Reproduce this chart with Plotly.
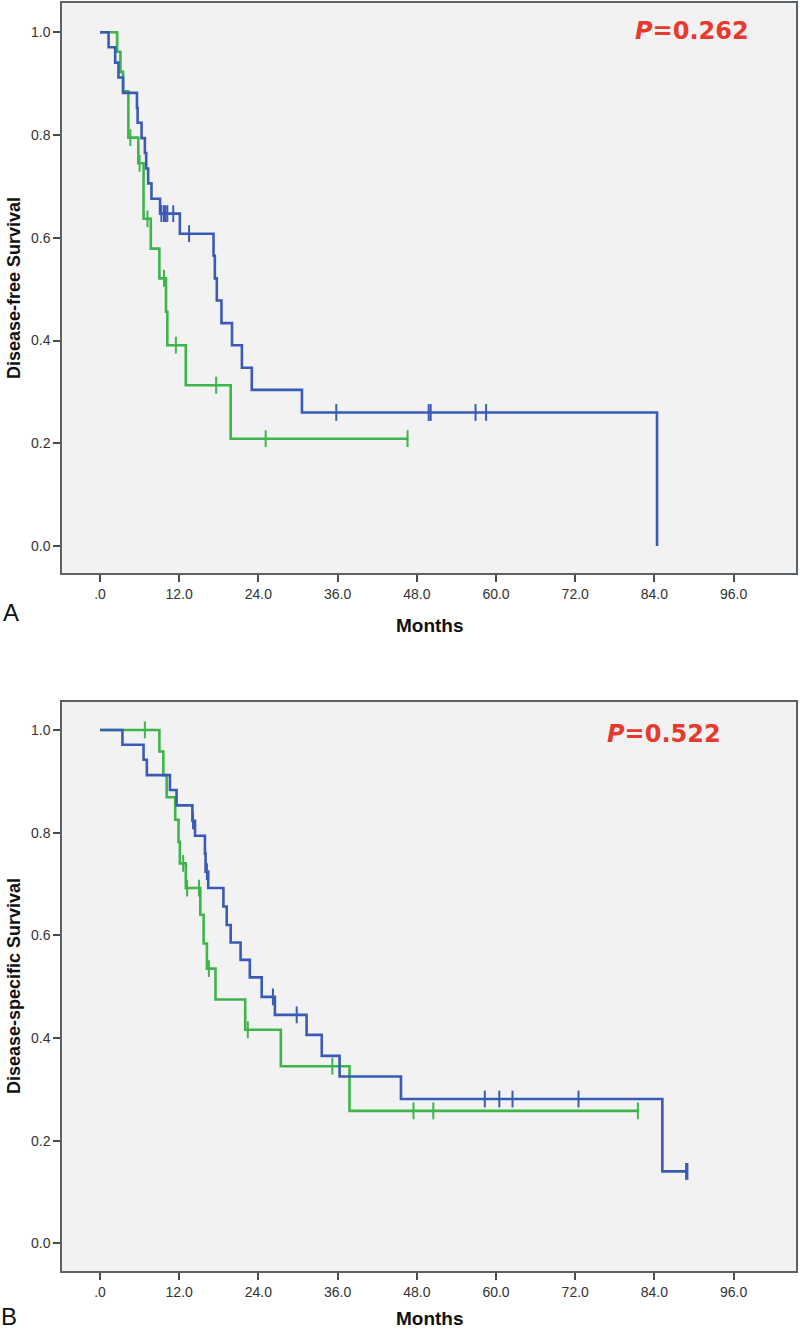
import plotly.graph_objects as go

# ---------------- DATA ----------------
# Panel A: Disease-free survival
a_blue_times = [0, 1.3, 2.3, 2.8, 3.5, 5.6, 5.7, 6.3, 6.8, 7.0, 7.3, 7.8, 9.1, 12.1,
                17.2, 17.4, 17.7, 18.4, 20.0, 21.5, 23.0, 30.6, 84.4]
a_blue_surv = [1.0, 0.971, 0.941, 0.912, 0.882, 0.853, 0.824, 0.794, 0.765, 0.735, 0.706,
               0.676, 0.647, 0.608, 0.565, 0.521, 0.478, 0.434, 0.391, 0.347, 0.304, 0.260, 0.0]
a_blue_censor = [9.3, 9.7, 9.9, 10.2, 11.1, 13.5, 35.8, 49.8, 50.1, 56.9, 58.5]

a_green_times = [0, 2.6, 3.1, 3.5, 4.3, 5.8, 6.6, 7.7, 9.0, 10.0, 10.2, 13.0, 19.8]
a_green_surv = [1.0, 0.962, 0.923, 0.885, 0.795, 0.745, 0.637, 0.579, 0.521, 0.456, 0.391,
                0.313, 0.209]
a_green_censor = [4.6, 6.0, 7.2, 9.7, 11.5, 17.6, 25.1, 46.6]
a_green_end = 46.6

# Panel B: Disease-specific survival
b_blue_times = [0, 3.4, 6.6, 7.1, 10.6, 11.6, 14.0, 14.4, 15.9, 16.0, 16.4, 18.7, 19.2,
                19.8, 21.3, 22.7, 24.5, 26.5, 31.3, 33.6, 36.3, 45.6, 85.2]
b_blue_surv = [1.0, 0.971, 0.942, 0.912, 0.883, 0.853, 0.823, 0.794, 0.759, 0.724, 0.692,
               0.656, 0.620, 0.586, 0.552, 0.518, 0.480, 0.445, 0.406, 0.365, 0.325, 0.281, 0.140]
b_blue_censor = [14.1, 16.2, 26.2, 29.8, 58.3, 60.5, 62.5, 72.5, 88.8, 89.0]
b_blue_end = 89.0

b_green_times = [0, 9.0, 9.6, 10.1, 11.4, 11.9, 12.1, 13.0, 15.2, 15.7, 16.2, 17.5, 22.0,
                 27.4, 37.8]
b_green_surv = [1.0, 0.958, 0.912, 0.869, 0.825, 0.782, 0.740, 0.692, 0.640, 0.584, 0.535,
                0.475, 0.416, 0.345, 0.258]
b_green_censor = [6.8, 12.6, 13.2, 15.0, 16.5, 22.4, 35.2, 47.5, 50.5, 81.5]
b_green_end = 81.5

x_tickvals = [0, 12, 24, 36, 48, 60, 72, 84, 96]
x_ticktext = [".0", "12.0", "24.0", "36.0", "48.0", "60.0", "72.0", "84.0", "96.0"]
y_tickvals = [0.0, 0.2, 0.4, 0.6, 0.8, 1.0]
y_ticktext = ["0.0", "0.2", "0.4", "0.6", "0.8", "1.0"]

panel_letters = ["A", "B"]
y_titles = ["Disease-free Survival", "Disease-specific Survival"]
x_title = "Months"
p_values = ["0.262", "0.522"]

# ---------------- STYLE ----------------
BLUE = "#3a5bb5"
GREEN = "#3db54a"
RED = "#e8392e"
W, H = 800, 1331
FONT = "Liberation Sans, Arial, sans-serif"


def surv_at(times, surv, t):
    s = surv[0]
    for ti, si in zip(times, surv):
        if ti <= t:
            s = si
    return s


def curve(times, surv, end=None):
    xs = list(times)
    ys = list(surv)
    if end is not None and end > xs[-1]:
        xs.append(end)
        ys.append(ys[-1])
    return xs, ys


fig = go.Figure()

panels = [
    (a_blue_times, a_blue_surv, a_blue_censor, None,
     a_green_times, a_green_surv, a_green_censor, a_green_end, "x", "y"),
    (b_blue_times, b_blue_surv, b_blue_censor, b_blue_end,
     b_green_times, b_green_surv, b_green_censor, b_green_end, "x2", "y2"),
]

for (bt, bs, bc, be, gt, gs, gc, ge, xa, ya) in panels:
    for times, surv, cens, end, col in [(gt, gs, gc, ge, GREEN), (bt, bs, bc, be, BLUE)]:
        xs, ys = curve(times, surv, end)
        fig.add_trace(go.Scatter(x=xs, y=ys, mode="lines", line=dict(color=col, width=2.6, shape="hv"),
                                 xaxis=xa, yaxis=ya, showlegend=False, hoverinfo="skip"))
        fig.add_trace(go.Scatter(x=cens, y=[surv_at(times, surv, c) for c in cens], mode="markers",
                                 marker=dict(symbol="line-ns", size=12, line=dict(color=col, width=2)),
                                 xaxis=xa, yaxis=ya, showlegend=False, hoverinfo="skip"))


def px(x):
    return x / W


def py(y):
    return 1 - y / H


top_dom = [py(573.3), py(2.5)]
bot_dom = [py(1271), py(701.7)]
x_dom = [px(62.3), px(796)]

axis_common = dict(showgrid=False, zeroline=False, showline=True, mirror=True,
                   linecolor="#5a6268", linewidth=2, ticks="outside", ticklen=7, tickwidth=2,
                   tickcolor="#4a4a4a", tickfont=dict(family=FONT, size=14, color="#333333"))

fig.update_layout(
    width=W, height=H, margin=dict(l=0, r=0, t=0, b=0),
    paper_bgcolor="white", plot_bgcolor="#f2f2f2",
    xaxis=dict(domain=x_dom, range=[-5.71, 105.45], tickvals=x_tickvals, ticktext=x_ticktext,
               anchor="y", **axis_common),
    yaxis=dict(domain=top_dom, range=[-0.053, 1.058], tickvals=y_tickvals, ticktext=y_ticktext,
               anchor="x", **axis_common),
    xaxis2=dict(domain=x_dom, range=[-5.71, 105.45], tickvals=x_tickvals, ticktext=x_ticktext,
                anchor="y2", **axis_common),
    yaxis2=dict(domain=bot_dom, range=[-0.054, 1.055], tickvals=y_tickvals, ticktext=y_ticktext,
                anchor="x2", **axis_common),
)

ann = []
ann.append(dict(x=px(11), y=py(612), text=panel_letters[0], font=dict(family=FONT, size=24, color="#111")))
ann.append(dict(x=px(9), y=py(1316), text=panel_letters[1], font=dict(family=FONT, size=24, color="#111")))
ann.append(dict(x=px(429.5), y=py(625), text="<b>%s</b>" % x_title, font=dict(family=FONT, size=19, color="#111")))
ann.append(dict(x=px(429.5), y=py(1318), text="<b>%s</b>" % x_title, font=dict(family=FONT, size=19, color="#111")))
ann.append(dict(x=px(14), y=py(288), text="<b>%s</b>" % y_titles[0], textangle=-90,
                font=dict(family=FONT, size=18, color="#111")))
ann.append(dict(x=px(14), y=py(986), text="<b>%s</b>" % y_titles[1], textangle=-90,
                font=dict(family=FONT, size=18, color="#111")))
ann.append(dict(x=px(633), y=py(31), xanchor="left", text="<i>P</i>=%s" % p_values[0],
                font=dict(family="DejaVu Sans", size=24, color=RED, weight="bold")))
ann.append(dict(x=px(605), y=py(734), xanchor="left", text="<i>P</i>=%s" % p_values[1],
                font=dict(family="DejaVu Sans", size=24, color=RED, weight="bold")))

for a in ann:
    a.setdefault("xanchor", "center")
    a.update(xref="paper", yref="paper", yanchor="middle", showarrow=False)
fig.update_layout(annotations=ann)

fig.write_html("out.html", config={"displayModeBar": False},
               post_script="document.body.style.margin='0';document.body.style.overflow='hidden';")
